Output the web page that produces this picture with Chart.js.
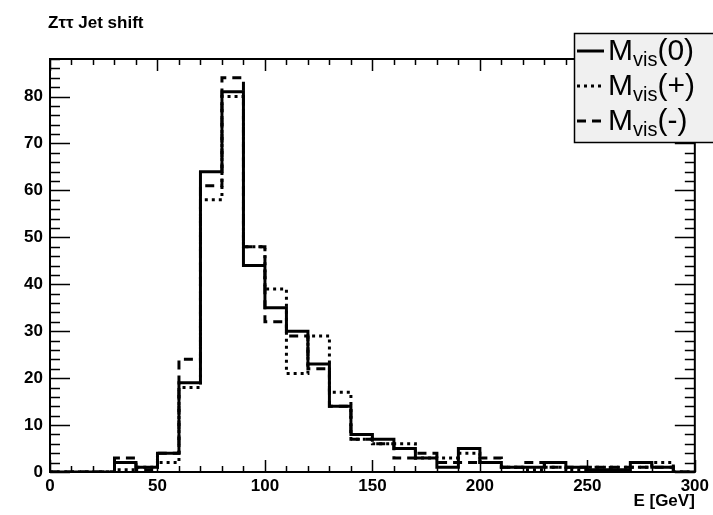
<!DOCTYPE html>
<html>
<head>
<meta charset="utf-8">
<script src="https://cdn.jsdelivr.net/npm/chart.js@4.4.1/dist/chart.umd.min.js"></script>
<style>
  body { margin: 0; background: #fff; }
</style>
</head>
<body>
<canvas id="myChart" width="713" height="515"></canvas>
<script>
// bin edges in GeV (30 bins of 10 GeV)
const binEdges = [0, 10, 20, 30, 40, 50, 60, 70, 80, 90, 100, 110, 120, 130, 140, 150,
    160, 170, 180, 190, 200, 210, 220, 230, 240, 250, 260, 270, 280, 290, 300];

// counts per bin
const mvisNominal = [0, 0, 0, 2, 1, 4, 19, 64, 81, 44, 35, 30, 23, 14, 8, 7, 5, 3, 1, 5, 2, 1, 1, 2, 1, 0.5, 0.5, 2, 1, 0];
const mvisUp = [0, 0, 0, 0.5, 1, 2, 18, 58, 80, 48, 39, 21, 29, 17, 7, 6, 6, 3, 3, 4, 2, 1, 0.5, 1, 0.5, 1, 1, 1, 2, 0];
const mvisDown = [0, 0, 0, 3, 0.5, 4, 24, 61, 84, 48, 32, 29, 22, 14, 7, 6, 3, 4, 2, 2, 3, 1, 2, 1, 1, 1, 1, 1, 1, 0];

const seriesNames = ['Mvis(0)', 'Mvis(+)', 'Mvis(-)'];
const xTicks = [0, 50, 100, 150, 200, 250, 300];
const yTicks = [0, 10, 20, 30, 40, 50, 60, 70, 80];

const tickFont = { family: '"Liberation Sans", Arial, sans-serif', size: 17, weight: 'bold' };

// turn bin contents into step points
function histPoints(values) {
    const pts = values.map(function (v, i) {
        return { x: binEdges[i], y: v };
    });
    pts.push({ x: binEdges[binEdges.length - 1], y: 0 });
    return pts;
}

// ROOT style frame with inward ticks on all four sides
const framePlugin = {
    id: 'frame',
    afterDatasetsDraw(chart) {
        const { ctx, chartArea: a, scales: { x, y } } = chart;
        ctx.save();
        ctx.strokeStyle = '#000';
        ctx.lineWidth = 1.5;
        ctx.beginPath();
        for (let v = 0; v <= y.max; v += 2) {
            const py = Math.round(y.getPixelForValue(v)) + 0.5;
            const len = v % 10 === 0 ? 20 : 10;
            ctx.moveTo(a.left, py); ctx.lineTo(a.left + len, py);
            ctx.moveTo(a.right, py); ctx.lineTo(a.right - len, py);
        }
        for (let v = 0; v <= x.max; v += 10) {
            const px = Math.round(x.getPixelForValue(v)) + 0.5;
            const len = v % 50 === 0 ? 12 : 6;
            ctx.moveTo(px, a.bottom); ctx.lineTo(px, a.bottom - len);
            ctx.moveTo(px, a.top); ctx.lineTo(px, a.top + len);
        }
        ctx.stroke();
        ctx.lineWidth = 2;
        ctx.strokeRect(a.left, a.top, a.right - a.left, a.bottom - a.top);
        ctx.restore();
    }
};

// title and the grey legend box with subscripts
const decorPlugin = {
    id: 'decor',
    afterDraw(chart) {
        const ctx = chart.ctx;
        ctx.save();
        ctx.fillStyle = '#000';
        ctx.textBaseline = 'alphabetic';
        ctx.font = 'bold 17px "Liberation Sans", Arial, sans-serif';
        ctx.fillText('Z\u03c4\u03c4 Jet shift', 48, 28);

        ctx.fillStyle = '#f0f0f0';
        ctx.fillRect(574, 33, 150, 110);
        ctx.strokeStyle = '#000';
        ctx.lineWidth = 1.5;
        ctx.strokeRect(574.5, 33.5, 150, 109);

        chart.data.datasets.forEach(function (ds, i) {
            const cy = 51 + i * 35;
            ctx.save();
            ctx.lineWidth = 3;
            ctx.setLineDash(ds.borderDash || []);
            ctx.beginPath();
            ctx.moveTo(577, cy);
            ctx.lineTo(604, cy);
            ctx.stroke();
            ctx.restore();

            let tx = 608;
            const base = cy + 9;
            ctx.fillStyle = '#000';
            ctx.font = '30px "Liberation Sans", Arial, sans-serif';
            ctx.fillText('M', tx, base);
            tx += ctx.measureText('M').width;
            ctx.font = '20px "Liberation Sans", Arial, sans-serif';
            ctx.fillText('vis', tx, base + 6);
            tx += ctx.measureText('vis').width;
            ctx.font = '30px "Liberation Sans", Arial, sans-serif';
            ctx.fillText(ds.label.slice(4), tx, base);
        });
        ctx.restore();
    }
};

// setup
const data = {
    datasets: [{
        label: seriesNames[0],
        data: histPoints(mvisNominal),
        borderColor: '#000',
        borderWidth: 3,
        borderDash: []
    }, {
        label: seriesNames[1],
        data: histPoints(mvisUp),
        borderColor: '#000',
        borderWidth: 3,
        borderDash: [3, 4]
    }, {
        label: seriesNames[2],
        data: histPoints(mvisDown),
        borderColor: '#000',
        borderWidth: 3,
        borderDash: [9, 6]
    }]
};

const config = {
    type: 'line',
    data,
    options: {
        responsive: false,
        animation: false,
        layout: { padding: { top: 59, right: 16, left: 0, bottom: 0 } },
        elements: {
            line: { stepped: 'before', tension: 0, fill: false, borderCapStyle: 'butt' },
            point: { radius: 0 }
        },
        plugins: {
            legend: { display: false },
            tooltip: { enabled: false }
        },
        scales: {
            x: {
                type: 'linear',
                min: 0,
                max: 300,
                grid: { display: false, drawTicks: false },
                border: { display: false },
                afterBuildTicks: function (scale) {
                    scale.ticks = xTicks.map(function (v) { return { value: v }; });
                },
                afterFit: function (scale) { scale.height = 43; },
                ticks: { color: '#000', font: tickFont, padding: 4, maxRotation: 0, autoSkip: false },
                title: {
                    display: true,
                    text: 'E [GeV]',
                    align: 'end',
                    color: '#000',
                    font: tickFont,
                    padding: { top: 0, bottom: 3 }
                }
            },
            y: {
                min: 0,
                max: 88,
                grid: { display: false, drawTicks: false },
                border: { display: false },
                afterBuildTicks: function (scale) {
                    scale.ticks = yTicks.map(function (v) { return { value: v }; });
                },
                afterFit: function (scale) { scale.width = 50; },
                ticks: { color: '#000', font: tickFont, padding: 7 }
            }
        }
    },
    plugins: [framePlugin, decorPlugin]
};

const myChart = new Chart(
    document.getElementById('myChart').getContext('2d'),
    config
);
</script>
</body>
</html>
